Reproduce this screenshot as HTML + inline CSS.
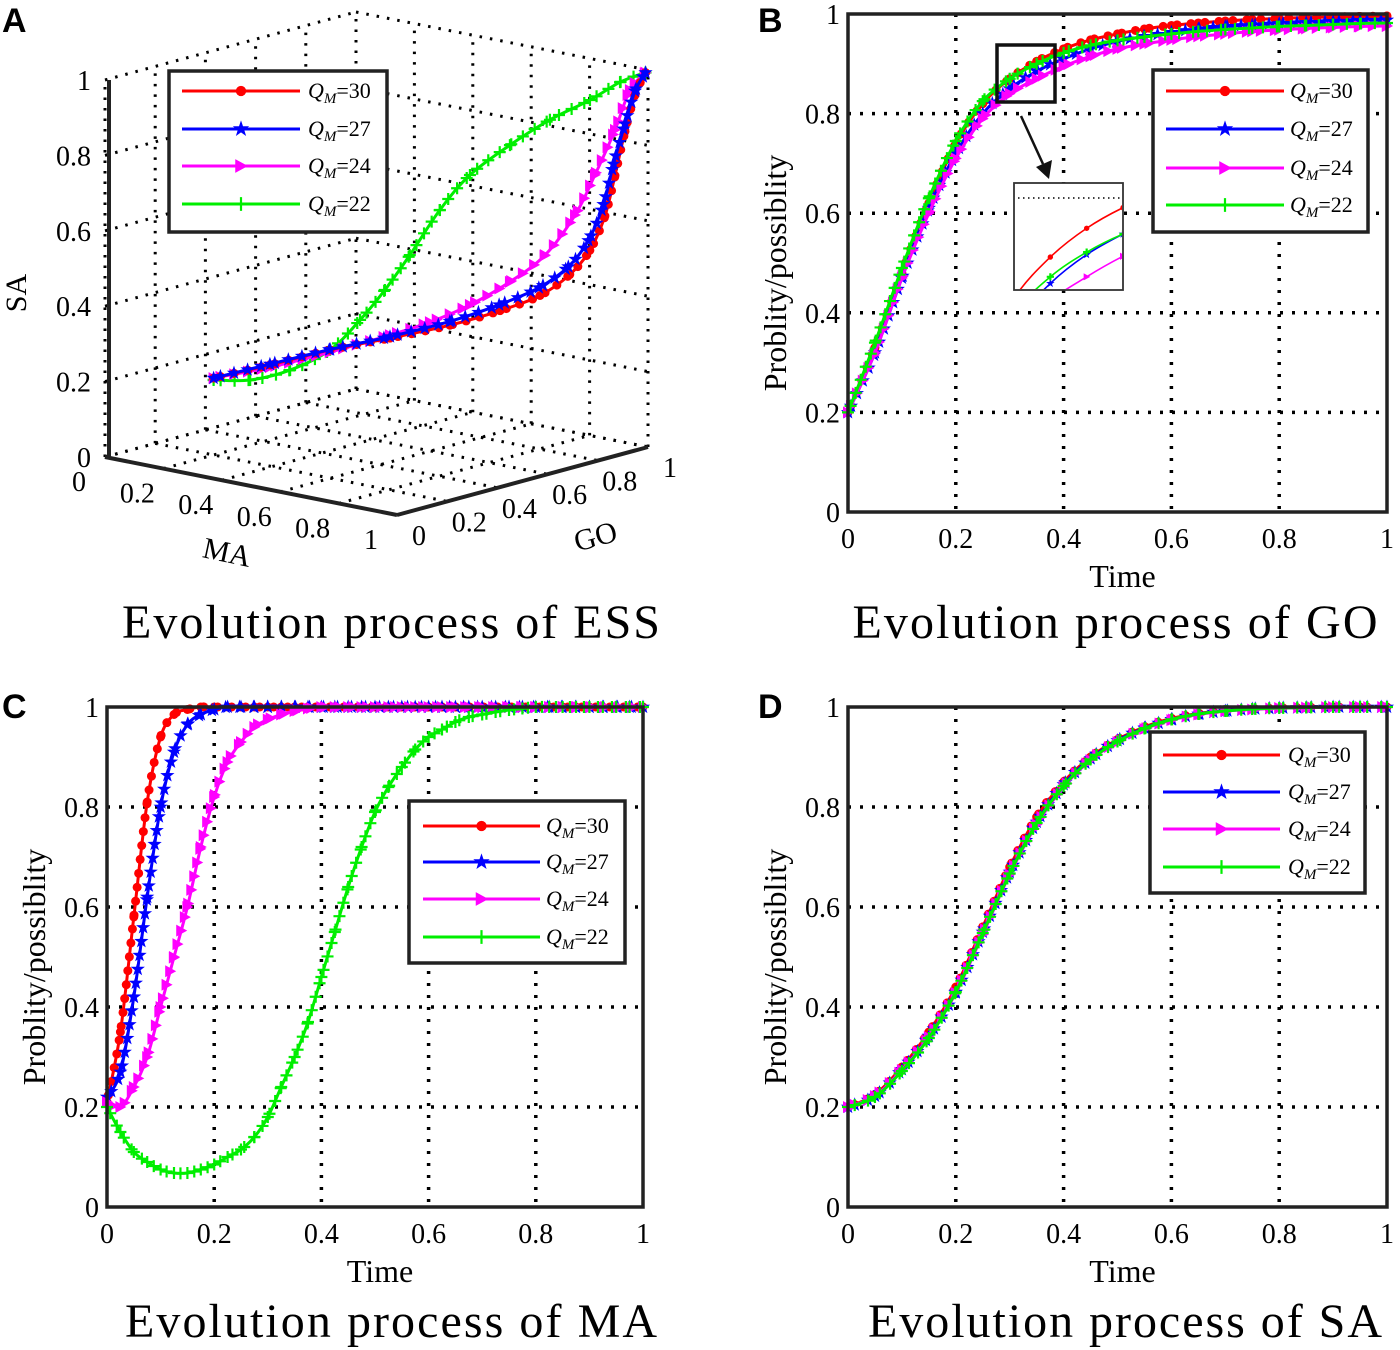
<!DOCTYPE html>
<html><head><meta charset="utf-8">
<style>
html,body{margin:0;padding:0;background:#fff;}
svg{display:block;font-family:"Liberation Serif",serif;}
.lbl{font-family:"Liberation Sans",sans-serif;font-weight:bold;font-size:34px;}
</style></head>
<body>
<svg id="fig" width="1400" height="1350" viewBox="0 0 1400 1350" xmlns="http://www.w3.org/2000/svg">
<rect width="1400" height="1350" fill="#fff"/>
<text class="lbl" x="2" y="32">A</text>
<text class="lbl" x="758" y="32">B</text>
<text class="lbl" x="2" y="718">C</text>
<text class="lbl" x="758" y="718">D</text>
<text x="391" y="638" font-size="48" text-anchor="middle" textLength="538">Evolution process of ESS</text>
<text x="1115" y="638" font-size="48" text-anchor="middle" textLength="525">Evolution process of GO</text>
<text x="391" y="1337" font-size="48" text-anchor="middle" textLength="532">Evolution process of MA</text>
<text x="1125" y="1337" font-size="48" text-anchor="middle" textLength="514">Evolution process of SA</text>
<g id="pa"></g>
<g id="pb"></g>
<g id="pc"></g>
<g id="pd"></g>
</svg>
<script>
// ---------- data ----------
const seriesLabels = ["30","27","24","22"];
const colors = ["#ff0000","#0000ff","#ff00ff","#00ee00"];
const tickVals = [0,0.2,0.4,0.6,0.8,1];
const tickLabels = ["0","0.2","0.4","0.6","0.8","1"];

// Panel B (GO) time grid and values
const tB = [0,0.05,0.1,0.15,0.2,0.25,0.3,0.35,0.4,0.45,0.5,0.55,0.6,0.65,0.7,0.75,0.8,0.85,0.9,0.95,1];
const goRed   = [0.2,0.33,0.48,0.62,0.74,0.82,0.87,0.905,0.93,0.948,0.96,0.97,0.977,0.982,0.986,0.989,0.991,0.993,0.994,0.995,0.996];
const goBlue  = [0.2,0.32,0.47,0.61,0.72,0.8,0.85,0.885,0.91,0.93,0.945,0.955,0.963,0.97,0.975,0.978,0.981,0.983,0.985,0.987,0.988];
const goMag   = [0.2,0.32,0.47,0.6,0.71,0.79,0.84,0.87,0.895,0.915,0.93,0.94,0.948,0.955,0.96,0.965,0.968,0.971,0.973,0.975,0.976];
const goGreen = [0.2,0.34,0.49,0.63,0.745,0.825,0.87,0.9,0.922,0.937,0.947,0.954,0.96,0.965,0.969,0.972,0.975,0.977,0.979,0.981,0.982];

// Panel C (MA)
const tC = [0,0.025,0.05,0.075,0.1,0.125,0.15,0.175,0.2,0.225,0.25,0.275,0.3,0.325,0.35,0.375,0.4,0.425,0.45,0.475,0.5,0.525,0.55,0.575,0.6,0.625,0.65,0.675,0.7,0.725,0.75,0.775,0.8,0.825,0.85,0.875,0.9,0.925,0.95,0.975,1];
const maRed   = [0.21,0.35,0.58,0.81,0.94,0.985,0.995,1,1,1,1,1,1,1,1,1,1,1,1,1,1,1,1,1,1,1,1,1,1,1,1,1,1,1,1,1,1,1,1,1,1];
const maBlue  = [0.22,0.27,0.42,0.62,0.8,0.91,0.965,0.985,0.995,1,1,1,1,1,1,1,1,1,1,1,1,1,1,1,1,1,1,1,1,1,1,1,1,1,1,1,1,1,1,1,1];
const maMag   = [0.21,0.2,0.24,0.3,0.4,0.5,0.6,0.72,0.82,0.89,0.93,0.96,0.975,0.985,0.992,0.997,1,1,1,1,1,1,1,1,1,1,1,1,1,1,1,1,1,1,1,1,1,1,1,1,1];
const maGreen = [0.2,0.15,0.11,0.09,0.075,0.068,0.068,0.075,0.085,0.1,0.115,0.14,0.18,0.24,0.3,0.37,0.46,0.55,0.64,0.72,0.79,0.84,0.88,0.915,0.94,0.955,0.97,0.98,0.985,0.99,0.994,0.997,1,1,1,1,1,1,1,1,1];

// Panel D (SA)
const tD = [0,0.05,0.1,0.15,0.2,0.25,0.3,0.35,0.4,0.45,0.5,0.55,0.6,0.65,0.7,0.75,0.8,0.85,0.9,0.95,1];
const saRed   = [0.2,0.225,0.28,0.35,0.44,0.56,0.68,0.78,0.85,0.9,0.935,0.96,0.977,0.987,0.993,0.996,0.998,0.999,1,1,1];
const saBlue  = [0.2,0.222,0.275,0.342,0.43,0.55,0.67,0.77,0.845,0.897,0.933,0.958,0.975,0.986,0.992,0.996,0.998,0.999,1,1,1];
const saMag   = [0.2,0.222,0.274,0.34,0.428,0.545,0.665,0.765,0.84,0.894,0.93,0.956,0.974,0.985,0.992,0.995,0.998,0.999,1,1,1];
const saGreen = [0.2,0.22,0.272,0.338,0.43,0.548,0.667,0.768,0.842,0.895,0.931,0.957,0.975,0.986,0.992,0.996,0.998,0.999,1,1,1];

// Panel A (3D trajectories: MA, GO, SA)
const aRedMA = [0.2,0.35,0.513,0.675,0.82,0.923,0.974,0.99,0.99,0.99,0.99,0.99,0.99,1];
const aRedGO = [0.2,0.25,0.3,0.35,0.42,0.5,0.6,0.7,0.78,0.84,0.88,0.92,0.96,0.99];
const aRedSA = [0.204,0.253,0.309,0.356,0.4,0.44,0.47,0.51,0.56,0.64,0.74,0.85,0.94,0.995];
const aBlueMA = [0.2,0.35,0.513,0.675,0.82,0.92,0.97,0.985,0.985,0.985,0.985,0.99,0.99,1];
const aBlueGO = [0.2,0.25,0.3,0.35,0.42,0.5,0.6,0.7,0.78,0.84,0.88,0.92,0.96,0.99];
const aBlueSA = [0.204,0.255,0.31,0.36,0.41,0.455,0.49,0.53,0.585,0.67,0.77,0.87,0.95,0.995];
const aMagMA = [0.2,0.35,0.513,0.675,0.769,0.863,0.914,0.948,0.965,0.973,0.973,0.981,1];
const aMagGO = [0.2,0.25,0.3,0.35,0.4,0.45,0.55,0.65,0.75,0.82,0.9,0.95,0.99];
const aMagSA = [0.204,0.247,0.303,0.364,0.404,0.455,0.506,0.564,0.655,0.75,0.855,0.953,0.995];
const aGreenMA = [0.2,0.308,0.419,0.513,0.59,0.649,0.7,0.76,0.82,0.871,0.922,0.956,0.973,1];
const aGreenGO = [0.2,0.22,0.25,0.3,0.33,0.36,0.4,0.45,0.5,0.6,0.7,0.82,0.92,0.99];
const aGreenSA = [0.199,0.212,0.25,0.309,0.395,0.478,0.571,0.691,0.784,0.853,0.91,0.946,0.978,0.995];

// ---------- helpers ----------
const NS="http://www.w3.org/2000/svg";
function mk(parent,tag,attrs){const e=document.createElementNS(NS,tag);for(const k in attrs)e.setAttribute(k,attrs[k]);parent.appendChild(e);return e;}
function smoothPath(p){
  if(p.length<2)return "";
  let d="M"+p[0][0].toFixed(2)+","+p[0][1].toFixed(2);
  for(let i=0;i<p.length-1;i++){
    const p0=p[i-1]||p[i],p1=p[i],p2=p[i+1],p3=p[i+2]||p2;
    const c1=[p1[0]+(p2[0]-p0[0])/6,p1[1]+(p2[1]-p0[1])/6];
    const c2=[p2[0]-(p3[0]-p1[0])/6,p2[1]-(p3[1]-p1[1])/6];
    d+="C"+c1[0].toFixed(2)+","+c1[1].toFixed(2)+" "+c2[0].toFixed(2)+","+c2[1].toFixed(2)+" "+p2[0].toFixed(2)+","+p2[1].toFixed(2);
  }
  return d;
}
function marker(g,k,x,y,s){
  s=s||1;const c=colors[k];let m;
  if(k===0){m=mk(g,"circle",{cx:x,cy:y,r:4.5*s,fill:c});}
  else if(k===1){let pts=[];for(let i=0;i<10;i++){const r=(i%2?3:7.5)*s,a=-Math.PI/2+i*Math.PI/5;pts.push((x+r*Math.cos(a)).toFixed(1)+","+(y+r*Math.sin(a)).toFixed(1));}m=mk(g,"polygon",{points:pts.join(" "),fill:c});}
  else if(k===2){m=mk(g,"polygon",{points:(x-5*s)+","+(y-6*s)+" "+(x+6*s)+","+y+" "+(x-5*s)+","+(y+6*s),fill:c});}
  else {m=mk(g,"path",{d:"M"+(x-6*s)+","+y+"H"+(x+6*s)+"M"+x+","+(y-6*s)+"V"+(y+6*s),stroke:c,"stroke-width":2.2});}
  return m;
}
function drawSeries(g,pts,k,lw,ms,spacing){
  const sg=mk(g,"g",{});
  
  
  const path=mk(sg,"path",{d:smoothPath(pts),fill:"none",stroke:colors[k],"stroke-width":lw||3});
  pts.forEach(p=>marker(sg,k,p[0],p[1],ms));
  if(spacing){
    const L=path.getTotalLength();
    for(let s=spacing/2;s<L;s+=spacing){const q=path.getPointAtLength(s);marker(sg,k,q.x,q.y,ms);}
  }
}
function legend(g,x0,y0,w,h,rows,lineX0,lineX1,textX){
  const lg=mk(g,"g",{});
  
  
  mk(lg,"rect",{x:x0,y:y0,width:w,height:h,fill:"#fff",stroke:"#222","stroke-width":3.5});
  rows.forEach((y,k)=>{
    const eg=mk(lg,"g",{});
    
    
    mk(eg,"line",{x1:lineX0,y1:y,x2:lineX1,y2:y,stroke:colors[k],"stroke-width":3});
    marker(eg,k,(lineX0+lineX1)/2,y,1.15);
    const t=mk(eg,"text",{x:textX,y:y+7,"font-size":22});
    t.innerHTML='<tspan font-style="italic">Q</tspan><tspan font-style="italic" font-size="15" dy="5">M</tspan><tspan dy="-5">='+seriesLabels[k]+'</tspan>';
  });
}
function panel2D(id,L,R,T,B,tArr,series,legendCfg,extra){
  const g=document.getElementById(id);
  const X=v=>L+(R-L)*v, Y=v=>B-(B-T)*v;
  tickVals.forEach(v=>{
    if(v>0&&v<1){
      const gx=mk(g,"line",{x1:X(v),y1:T,x2:X(v),y2:B,stroke:"#000","stroke-width":3.5,"stroke-dasharray":"3,9"});
      
      
      const gy=mk(g,"line",{x1:L,y1:Y(v),x2:R,y2:Y(v),stroke:"#000","stroke-width":3.5,"stroke-dasharray":"3,9"});
      
      
    }
  });
  const sg=mk(g,"g",{});
  
  
  series.forEach((vals,k)=>drawSeries(sg,vals.map((v,i)=>[X(tArr[i]),Y(v)]),k,3,1,14));
  if(extra)extra(g,X,Y);
  const box=mk(g,"rect",{x:L,y:T,width:R-L,height:B-T,fill:"none",stroke:"#222","stroke-width":3.5});
  
  
  tickVals.forEach((v,i)=>{
    const xt=mk(g,"text",{x:X(v),y:B+36,"font-size":28,"text-anchor":"middle"});
    xt.textContent=tickLabels[i];
    
    
    const yt=mk(g,"text",{x:L-8,y:Y(v)+10,"font-size":28,"text-anchor":"end"});
    yt.textContent=tickLabels[i];
    
    
  });
  const xl=mk(g,"text",{x:(L+R)/2+5,y:B+75,"font-size":32,"text-anchor":"middle"});
  xl.textContent="Time";
  
  
  const cy=(T+B)/2+10;
  const yl=mk(g,"text",{x:L-62,y:cy,"font-size":32,"text-anchor":"middle",transform:"rotate(-90 "+(L-62)+" "+cy+")"});
  yl.textContent="Problity/possiblity";
  
  
  legend(g,...legendCfg);
}

// Panel B
panel2D("pb",848,1387,14,512,tB,[goRed,goBlue,goMag,goGreen],
  [1153,70,215,162,[91,129,168,205],1166,1284,1290],
  function(g,X,Y){
    const zr=mk(g,"rect",{x:997,y:45,width:58,height:57,fill:"none",stroke:"#111","stroke-width":3.5});
    
    
    const ar=mk(g,"g",{});
    
    
    mk(ar,"line",{x1:1021,y1:116,x2:1043,y2:164,stroke:"#111","stroke-width":2.5});
    mk(ar,"polygon",{points:"1036,167 1052,160 1049,179",fill:"#111"});
    const ins=mk(g,"g",{});
    
    
    mk(ins,"rect",{x:1014,y:183,width:109,height:107,fill:"#fff",stroke:"#333","stroke-width":1.8});
    mk(ins,"line",{x1:1018,y1:198,x2:1121,y2:198,stroke:"#000","stroke-width":1.6,"stroke-dasharray":"1.5,3.5"});
    const defs=mk(g,"defs",{});
    const cp=mk(defs,"clipPath",{id:"insClip"});
    mk(cp,"rect",{x:1015,y:184,width:107,height:105});
    const cg=mk(ins,"g",{"clip-path":"url(#insClip)"});
    const t0=0.25,t1=0.40,v0=0.83,v1=0.96;
    const IX=t=>1014+(t-t0)/(t1-t0)*109, IY=v=>290-(v-v0)/(v1-v0)*107;
    [goRed,goBlue,goMag,goGreen].forEach((vals,k)=>{
      const pts=vals.map((v,i)=>[IX(tB[i]),IY(v-0.012*k+(k===3?0.012:0))]);
      const sg=mk(cg,"g",{});
      
      
      mk(sg,"path",{d:smoothPath(pts),fill:"none",stroke:colors[k],"stroke-width":1.6});
      pts.forEach(p=>marker(sg,k,p[0],p[1],0.6));
    });
  });
// Panel C
panel2D("pc",107,643,707,1207,tC,[maRed,maBlue,maMag,maGreen],
  [409,801,216,162,[826,862,899,937],423,540,546]);
// Panel D
panel2D("pd",848,1387,707,1207,tD,[saRed,saBlue,saMag,saGreen],
  [1150,732,215,161,[755,792,829,867],1163,1280,1288]);

// Panel A (3D)
(function(){
  const g=document.getElementById("pa");
  const P=(ma,go,sa)=>[105+292*ma+251*go,457+58*ma-68*go-377*sa];
  const dot={stroke:"#000","stroke-width":3,"stroke-dasharray":"2.5,8",fill:"none"};
  function ln(a,b,name){const e=mk(g,"line",Object.assign({x1:a[0],y1:a[1],x2:b[0],y2:b[1]},dot));}
  tickVals.forEach(v=>{
    ln(P(0,0,v),P(0,1,v),'grid-wall-ma0-h');
    ln(P(0,v,0),P(0,v,1),'grid-wall-ma0-v');
    ln(P(0,1,v),P(1,1,v),'grid-wall-go1-h');
    ln(P(v,1,0),P(v,1,1),'grid-wall-go1-v');
    ln(P(v,0,0),P(v,1,0),'grid-floor-ma');
    ln(P(0,v,0),P(1,v,0),'grid-floor-go');
  });
  const ax={stroke:"#222","stroke-width":4};
  const a1=mk(g,"line",Object.assign({x1:P(0,0,0)[0]+4,y1:P(0,0,0)[1],x2:P(0,0,1)[0]+4,y2:P(0,0,1)[1]},ax));
  
  const a2=mk(g,"line",Object.assign({x1:P(0,0,0)[0],y1:P(0,0,0)[1],x2:P(1,0,0)[0],y2:P(1,0,0)[1]},ax));
  
  const a3=mk(g,"line",Object.assign({x1:P(1,0,0)[0],y1:P(1,0,0)[1],x2:P(1,1,0)[0],y2:P(1,1,0)[1]},ax));
  
  tickVals.forEach((v,i)=>{
    let p=P(0,0,v);
    const t1=mk(g,"text",{x:p[0]-14,y:p[1]+10,"font-size":28,"text-anchor":"end"});
    t1.textContent=tickLabels[i];
    
    p=P(v,0,0);
    const t2=mk(g,"text",{x:p[0]-26,y:p[1]+34,"font-size":28,"text-anchor":"middle"});
    t2.textContent=tickLabels[i];
    
    p=P(1,v,0);
    const t3=mk(g,"text",{x:p[0]+22,y:p[1]+30,"font-size":28,"text-anchor":"middle"});
    t3.textContent=tickLabels[i];
    
  });
  const s1=mk(g,"text",{x:26,y:293,"font-size":30,"text-anchor":"middle",transform:"rotate(-90 26 293)"});
  s1.textContent="SA";
  const s2=mk(g,"text",{x:225,y:562,"font-size":30,"text-anchor":"middle",transform:"rotate(12 225 562)"});
  s2.textContent="MA";
  const s3=mk(g,"text",{x:598,y:546,"font-size":30,"text-anchor":"middle",transform:"rotate(-15 598 546)"});
  s3.textContent="GO";
  const sets=[[aRedMA,aRedGO,aRedSA],[aBlueMA,aBlueGO,aBlueSA],[aMagMA,aMagGO,aMagSA],[aGreenMA,aGreenGO,aGreenSA]];
  [3,2,0,1].forEach(k=>{
    const s=sets[k];
    drawSeries(g,s[0].map((m,i)=>P(m,s[1][i],s[2][i])),k,3,1,14);
  });
  legend(g,169,71,218,161,[91,129,166,204],182,300,308);
})();
</script>
</body></html>
